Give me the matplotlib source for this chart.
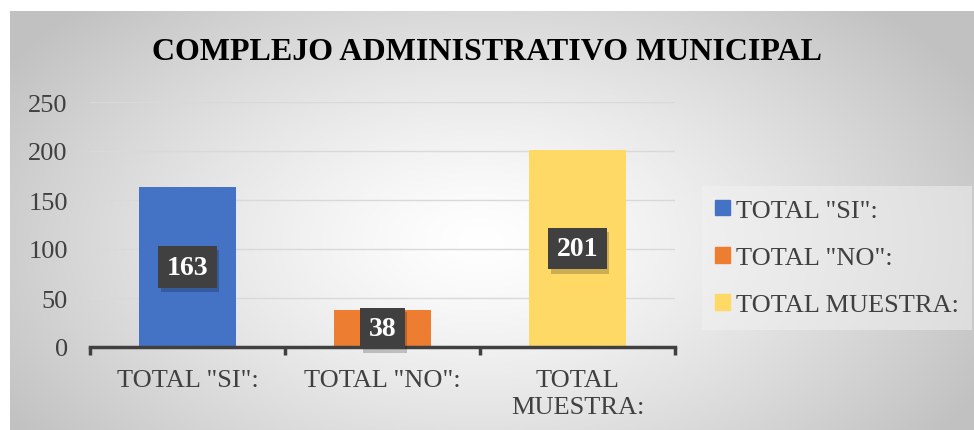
import numpy as np
import matplotlib.pyplot as plt
from matplotlib.patches import Rectangle
import matplotlib.patheffects as pe

categories = ['TOTAL "SI":', 'TOTAL "NO":', 'TOTAL MUESTRA:']
tick_labels = ['TOTAL "SI":', 'TOTAL "NO":', 'TOTAL\nMUESTRA:']
values = [163, 38, 201]
colors = ['#4472C4', '#ED7D31', '#FFD966']
title = 'COMPLEJO ADMINISTRATIVO MUNICIPAL'

plt.rcParams['font.family'] = ['Liberation Serif', 'DejaVu Serif']

W, H = 974, 431
fig = plt.figure(figsize=(W / 100, H / 100), dpi=100)
fig.patch.set_facecolor('white')

# radial gradient background of the chart area
bg = fig.add_axes([10 / W, 0, 1 - 10 / W, 1 - 12 / H])
bg.set_axis_off()
yy, xx = np.mgrid[0:420, 0:964]
d = np.sqrt(((xx - 470) / 560) ** 2 + ((yy - 230) / 330) ** 2)
g = np.clip(1.0 - 0.24 * d ** 1.3, 0.76, 1.0)
bg.imshow(np.dstack([g, g, g]), aspect='auto', extent=[0, 1, 0, 1], origin='upper')
bg.set_xlim(0, 1)
bg.set_ylim(0, 1)

ax = fig.add_axes([90 / W, 83 / H, 585 / W, 245 / H])
ax.patch.set_alpha(0)
x = np.arange(len(values))
ax.bar(x, values, width=0.5, color=colors, zorder=2)
ax.set_xlim(-0.5, 2.5)
ax.set_ylim(0, 250)
ax.set_yticks(range(0, 251, 50))
ax.yaxis.grid(True, color='#d9d9d9', linewidth=1, zorder=0)
for s in ['top', 'right', 'left']:
    ax.spines[s].set_visible(False)
ax.spines['bottom'].set_color('#404040')
ax.spines['bottom'].set_linewidth(2.5)
ax.tick_params(axis='y', length=0, labelsize=19, labelcolor='#404040', pad=16)
ax.set_xticks(x)
ax.set_xticklabels(tick_labels, fontsize=19, color='#404040', linespacing=1.3)
ax.tick_params(axis='x', which='major', length=0, pad=16)
ax.set_xticks([-0.5, 0.5, 1.5, 2.5], minor=True)
ax.tick_params(axis='x', which='minor', length=6, width=2.5, color='#404040')

# data labels in dark boxes with a soft shadow
for xi, v in zip(x, values):
    t = ax.text(xi, v / 2, str(v), ha='center', va='center', fontsize=20,
                fontweight='bold', color='white', zorder=4,
                bbox=dict(boxstyle='square,pad=0.3', facecolor='#404040',
                          edgecolor='none'))
    t.get_bbox_patch().set_path_effects(
        [pe.withSimplePatchShadow(offset=(2, -3), shadow_rgbFace='black', alpha=0.2)])

fig.text(0.5, 1 - 52 / H, title, ha='center', va='center', fontsize=23,
         fontweight='bold', color='black')

# legend
handles = [Rectangle((0, 0), 1, 1, color=c) for c in colors]
leg = fig.legend(handles, categories, loc='center left',
                 bbox_to_anchor=(702 / W, 1 - 259 / H), fontsize=19,
                 frameon=True, facecolor='#f2f2f2', edgecolor='none',
                 framealpha=0.5, handlelength=0.55, handleheight=0.55,
                 handletextpad=0.25, labelspacing=0.95, borderpad=0.5,
                 borderaxespad=0, fancybox=False)
for t in leg.get_texts():
    t.set_color('#404040')

fig.savefig('out.png', dpi=100)
